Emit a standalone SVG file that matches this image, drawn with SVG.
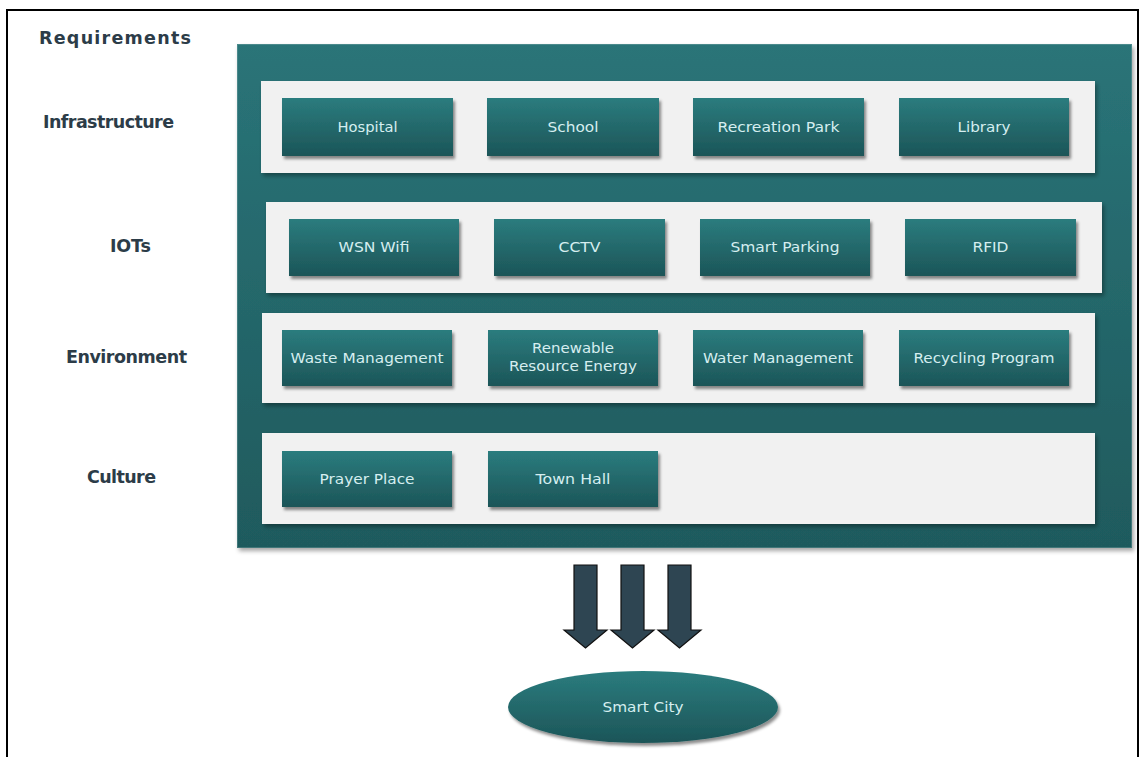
<svg xmlns="http://www.w3.org/2000/svg" width="1143" height="757" viewBox="0 0 1143 757">
<defs>
<linearGradient id="btnGrad" x1="0" y1="0" x2="0" y2="1">
<stop offset="0" stop-color="#2b7c7e"/>
<stop offset="1" stop-color="#1c5558"/>
</linearGradient>
<linearGradient id="panelGrad" x1="0" y1="0" x2="0" y2="1">
<stop offset="0" stop-color="#2a7478"/>
<stop offset="1" stop-color="#1f5a5d"/>
</linearGradient>
<linearGradient id="ellGrad" x1="0" y1="0" x2="0" y2="1">
<stop offset="0" stop-color="#2b7c7e"/>
<stop offset="1" stop-color="#1c5558"/>
</linearGradient>
<filter id="shadow" x="-10%" y="-10%" width="130%" height="140%">
<feDropShadow dx="2" dy="3" stdDeviation="1.8" flood-color="#000" flood-opacity="0.45"/>
</filter>
<filter id="shadowSoft" x="-5%" y="-5%" width="110%" height="115%">
<feDropShadow dx="2" dy="3" stdDeviation="2" flood-color="#000" flood-opacity="0.35"/>
</filter>
</defs>
<style>
.lbl{font-family:"DejaVu Sans","Liberation Sans",sans-serif;font-weight:bold;font-size:17.5px;fill:#2c3c48}
.btn{fill:url(#btnGrad);filter:url(#shadow)}
.bt{font-family:"DejaVu Sans","Liberation Sans",sans-serif;font-size:14px;fill:#d6eef0;text-anchor:middle}
.row{fill:#f1f1f1;filter:url(#shadowSoft)}
.arrow{fill:#2e4552;stroke:#111;stroke-width:1.2}
</style>
<rect x="0" y="0" width="1143" height="757" fill="#ffffff"/>
<rect x="7" y="10" width="1131" height="760" fill="none" stroke="#000" stroke-width="2"/>

<g id="labels">
<text class="lbl" x="39" y="44" textLength="152" lengthAdjust="spacing">Requirements</text>
<text class="lbl" x="43" y="128" textLength="131" lengthAdjust="spacing">Infrastructure</text>
<text class="lbl" x="110" y="252" textLength="41" lengthAdjust="spacing">IOTs</text>
<text class="lbl" x="66" y="363" textLength="121" lengthAdjust="spacing">Environment</text>
<text class="lbl" x="87" y="483" textLength="69" lengthAdjust="spacing">Culture</text>
</g>

<g id="panel">
<rect x="237" y="44" width="895" height="504" fill="url(#panelGrad)" filter="url(#shadowSoft)"/>
<rect x="237.5" y="44.5" width="894" height="503" fill="none" stroke="#9bbcbd" stroke-width="1" stroke-dasharray="1 1" opacity="0.6"/>
</g>

<g id="row-infrastructure">
<rect class="row" x="261" y="81" width="834" height="92"/>
</g>
<g id="row-iots">
<rect class="row" x="266" y="202" width="836" height="91"/>
</g>
<g id="row-environment">
<rect class="row" x="262" y="313" width="833" height="90"/>
</g>
<g id="row-culture">
<rect class="row" x="262" y="433" width="833" height="91"/>
</g>

<g id="hospital"><rect class="btn" x="282" y="98" width="171" height="58"/><text class="bt" x="367.5" y="132" textLength="60" lengthAdjust="spacingAndGlyphs">Hospital</text></g>
<g id="school"><rect class="btn" x="487" y="98" width="172" height="58"/><text class="bt" x="573" y="132" textLength="51" lengthAdjust="spacingAndGlyphs">School</text></g>
<g id="recreation-park"><rect class="btn" x="693" y="98" width="171" height="58"/><text class="bt" x="778.5" y="132" textLength="122" lengthAdjust="spacingAndGlyphs">Recreation Park</text></g>
<g id="library"><rect class="btn" x="899" y="98" width="170" height="58"/><text class="bt" x="984" y="132" textLength="53" lengthAdjust="spacingAndGlyphs">Library</text></g>

<g id="wsn-wifi"><rect class="btn" x="289" y="219" width="170" height="57"/><text class="bt" x="374" y="252" textLength="71" lengthAdjust="spacingAndGlyphs">WSN Wifi</text></g>
<g id="cctv"><rect class="btn" x="494" y="219" width="171" height="57"/><text class="bt" x="579.5" y="252" textLength="42" lengthAdjust="spacingAndGlyphs">CCTV</text></g>
<g id="smart-parking"><rect class="btn" x="700" y="219" width="170" height="57"/><text class="bt" x="785" y="252" textLength="109" lengthAdjust="spacingAndGlyphs">Smart Parking</text></g>
<g id="rfid"><rect class="btn" x="905" y="219" width="171" height="57"/><text class="bt" x="990.5" y="252" textLength="36" lengthAdjust="spacingAndGlyphs">RFID</text></g>

<g id="waste-management"><rect class="btn" x="282" y="330" width="170" height="56"/><text class="bt" x="367" y="363" textLength="153" lengthAdjust="spacingAndGlyphs">Waste Management</text></g>
<g id="renewable-resource-energy"><rect class="btn" x="488" y="330" width="170" height="56"/><text class="bt" x="573" y="353" textLength="82" lengthAdjust="spacingAndGlyphs">Renewable</text><text class="bt" x="573" y="371" textLength="128" lengthAdjust="spacingAndGlyphs">Resource Energy</text></g>
<g id="water-management"><rect class="btn" x="693" y="330" width="170" height="56"/><text class="bt" x="778" y="363" textLength="150" lengthAdjust="spacingAndGlyphs">Water Management</text></g>
<g id="recycling-program"><rect class="btn" x="899" y="330" width="170" height="56"/><text class="bt" x="984" y="363" textLength="141" lengthAdjust="spacingAndGlyphs">Recycling Program</text></g>

<g id="prayer-place"><rect class="btn" x="282" y="451" width="170" height="56"/><text class="bt" x="367" y="484" textLength="95" lengthAdjust="spacingAndGlyphs">Prayer Place</text></g>
<g id="town-hall"><rect class="btn" x="488" y="451" width="170" height="56"/><text class="bt" x="573" y="484" textLength="75" lengthAdjust="spacingAndGlyphs">Town Hall</text></g>

<g id="connectors">
<path class="arrow" d="M574,565 h23 v65 h10 l-21.5,18 l-21.5,-18 h10 z"/>
<path class="arrow" d="M621,565 h23 v65 h10 l-21.5,18 l-21.5,-18 h10 z"/>
<path class="arrow" d="M668,565 h23 v65 h10 l-21.5,18 l-21.5,-18 h10 z"/>
</g>

<g id="smart-city">
<ellipse cx="643" cy="707" rx="135" ry="36" fill="url(#ellGrad)" filter="url(#shadow)"/>
<text class="bt" x="643" y="712" textLength="81" lengthAdjust="spacingAndGlyphs">Smart City</text>
</g>
</svg>
